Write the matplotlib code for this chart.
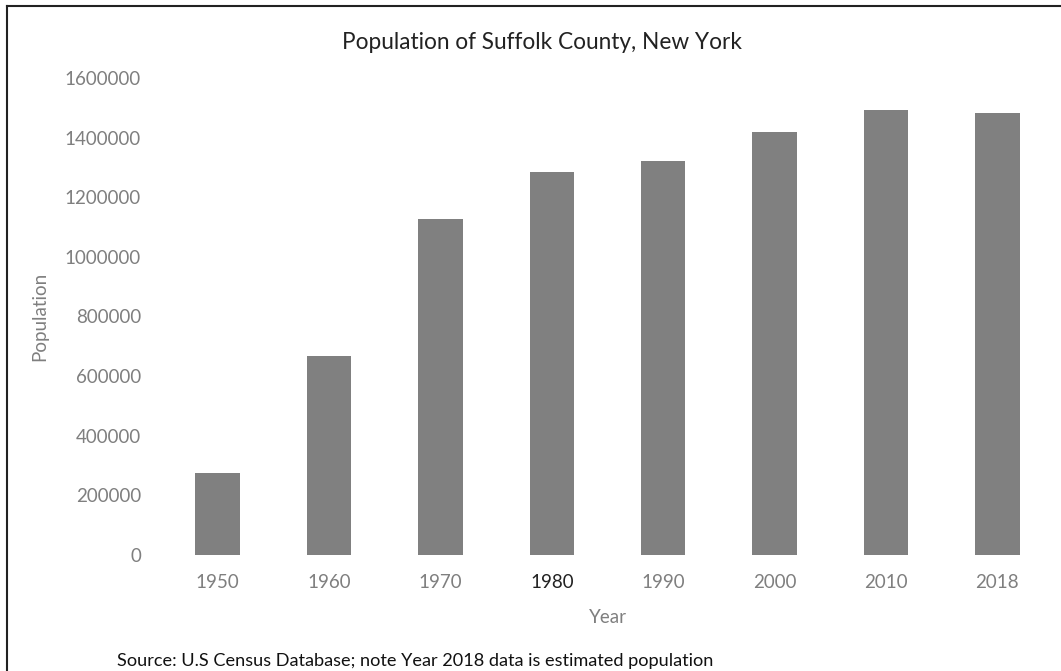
import matplotlib
matplotlib.use("Agg")
import matplotlib.pyplot as plt
from matplotlib.lines import Line2D

years = ["1950", "1960", "1970", "1980", "1990", "2000", "2010", "2018"]
population = [276129, 666784, 1127030, 1284231, 1321864, 1419369, 1493350, 1481093]
yticks = [0, 200000, 400000, 600000, 800000, 1000000, 1200000, 1400000, 1600000]

plt.rcParams['font.family'] = ['Lato', 'DejaVu Sans']

fig = plt.figure(figsize=(10.61, 6.71), dpi=100)
ax = fig.add_axes([0.1527, 0.1729, 0.8398, 0.7109])

x = list(range(len(years)))
ax.bar(x, population, width=0.4, color="#808080")
ax.set_xlim(-0.5, len(years) - 0.5)
ax.set_ylim(0, 1600000)
ax.set_yticks(yticks)
ax.set_yticklabels([str(v) for v in yticks])
ax.set_xticks(x)
ax.set_xticklabels(years)
for lbl in ax.get_xticklabels():
    if lbl.get_text() == "1980":
        lbl.set_color("#222222")
    else:
        lbl.set_color("#7f7f7f")
for lbl in ax.get_yticklabels():
    lbl.set_color("#7f7f7f")
ax.tick_params(axis='both', length=0, labelsize=13.5)
ax.tick_params(axis='y', pad=15)
ax.tick_params(axis='x', pad=14)
for s in ax.spines.values():
    s.set_visible(False)

ax.set_xlabel("Year", fontsize=13.5, color="#7f7f7f", labelpad=13)
ax.set_ylabel("Population", fontsize=13.5, color="#7f7f7f", labelpad=12)
fig.text(0.511, 0.937, "Population of Suffolk County, New York", ha="center", va="center",
         fontsize=16.3, color="#222222")
fig.text(0.110, 0.015, "Source: U.S Census Database; note Year 2018 data is estimated population",
         ha="left", va="center", fontsize=13.1, color="#111111")

fig.add_artist(Line2D([0.0066, 0.0066], [0.0, 0.991], transform=fig.transFigure, color="#222222", lw=1.5))
fig.add_artist(Line2D([0.0066, 1.0], [0.991, 0.991], transform=fig.transFigure, color="#222222", lw=1.5))

fig.savefig("out.png", dpi=100)
